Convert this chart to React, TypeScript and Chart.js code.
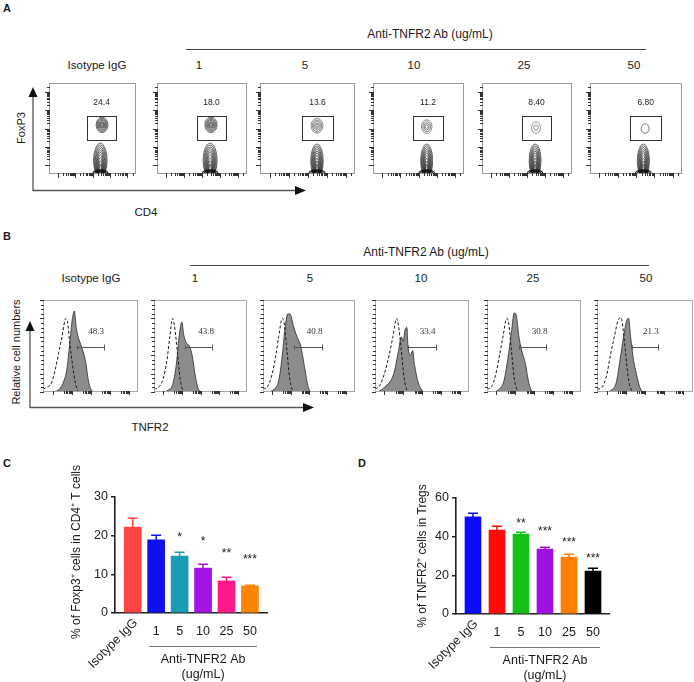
import React, { useEffect, useRef } from "react";
import { Chart, registerables } from "chart.js";
Chart.register(...registerables);

const SANS = "'Liberation Sans', Arial, Helvetica, sans-serif";
const SERIF = "'Liberation Serif', 'Times New Roman', serif";

// ---------- shared labels ----------
const doseLabels = ["Isotype IgG", "1", "5", "10", "25", "50"];
const groupTitle = "Anti-TNFR2 Ab (ug/mL)";

// ---------- Panel A (FoxP3 vs CD4 contour plots) ----------
const aGatePct = ["24.4", "18.0", "13.6", "11.2", "8.40", "6.80"];
const aBoxLeft = [49, 157, 260, 373, 482, 590];
const aBoxRight = [136, 247, 355, 464, 572, 682];
const aColX = [97, 199, 305, 414, 524, 634];
const aGateX = [0.44, 0.77];
const aGateY = [0.37, 0.64];
const aUpperCenter = [[0.61, 0.54], [0.6, 0.54], [0.6, 0.53], [0.59, 0.52], [0.6, 0.51], [0.6, 0.5]];
const aUpperRadius = [[0.068, 0.085], [0.068, 0.085], [0.062, 0.08], [0.058, 0.075], [0.05, 0.062], [0.043, 0.052]];
const aUpperRings = [
  [1, 0.84, 0.69, 0.55, 0.42, 0.3, 0.18],
  [1, 0.84, 0.69, 0.55, 0.42, 0.3, 0.18],
  [1, 0.78, 0.57, 0.38, 0.2],
  [1, 0.74, 0.5, 0.27],
  [1, 0.5],
  [1],
];
const aUpperInk = ["#3a3a3a", "#444444", "#6a6a6a", "#6a6a6a", "#7a7a7a", "#555555"];
const aLowerCenterX = [0.59, 0.59, 0.6, 0.59, 0.59, 0.58];
const aLowerRadiusX = [0.078, 0.078, 0.066, 0.066, 0.066, 0.066];
const aLowerTop = [0.34, 0.34, 0.33, 0.33, 0.33, 0.33];
const aLowerRings = [[1, 1], [0.88, 0.94], [0.76, 0.88], [0.66, 0.82], [0.56, 0.76], [0.47, 0.7], [0.38, 0.62], [0.3, 0.53], [0.22, 0.43], [0.15, 0.32]];
const aBaseRings = [[0.085, 0.035], [0.065, 0.026], [0.045, 0.018], [0.03, 0.012]];

// ---------- Panel B (TNFR2 histograms) ----------
const bGatePct = ["48.3", "43.8", "40.8", "33.4", "30.8", "21.3"];
const bBoxLeft = [43, 154, 263, 375, 487, 597];
const bBoxRight = [138, 247, 355, 469, 581, 693];
const bColX = [91, 195, 310, 421, 533, 646];
const bGateRange = [[0.36, 0.64], [0.33, 0.62], [0.34, 0.64], [0.35, 0.65], [0.34, 0.63], [0.36, 0.64]];
const bShaded: number[][][] = [
  [[0.1, 0], [0.14, 0.01], [0.18, 0.04], [0.22, 0.12], [0.25, 0.24], [0.28, 0.51], [0.31, 0.8], [0.33, 0.88], [0.35, 0.7], [0.37, 0.6], [0.41, 0.48], [0.45, 0.32], [0.48, 0.11], [0.51, 0.02], [0.54, 0]],
  [[0.1, 0], [0.15, 0.02], [0.2, 0.08], [0.24, 0.3], [0.27, 0.6], [0.3, 0.76], [0.32, 0.62], [0.35, 0.53], [0.38, 0.5], [0.41, 0.4], [0.44, 0.2], [0.47, 0.05], [0.5, 0]],
  [[0.06, 0], [0.12, 0.03], [0.17, 0.12], [0.21, 0.4], [0.24, 0.7], [0.27, 0.85], [0.3, 0.84], [0.33, 0.72], [0.37, 0.6], [0.41, 0.5], [0.45, 0.28], [0.49, 0.06], [0.52, 0]],
  [[0.03, 0], [0.1, 0.05], [0.2, 0.2], [0.25, 0.45], [0.28, 0.6], [0.3, 0.55], [0.32, 0.68], [0.34, 0.7], [0.35, 0.5], [0.38, 0.4], [0.4, 0.45], [0.42, 0.3], [0.46, 0.1], [0.5, 0.02], [0.52, 0]],
  [[0.08, 0], [0.13, 0.03], [0.18, 0.12], [0.22, 0.35], [0.26, 0.65], [0.29, 0.86], [0.31, 0.84], [0.34, 0.6], [0.37, 0.45], [0.41, 0.3], [0.44, 0.12], [0.47, 0.02], [0.49, 0]],
  [[0.1, 0], [0.15, 0.02], [0.2, 0.1], [0.24, 0.35], [0.28, 0.62], [0.31, 0.78], [0.33, 0.8], [0.35, 0.6], [0.38, 0.35], [0.41, 0.2], [0.44, 0.07], [0.47, 0]],
];
const bIsotype: number[][][] = [
  [[0, 0.03], [0.04, 0.05], [0.09, 0.1], [0.13, 0.25], [0.17, 0.45], [0.2, 0.6], [0.24, 0.8], [0.26, 0.75], [0.28, 0.55], [0.31, 0.3], [0.34, 0.1], [0.37, 0]],
  [[0, 0.03], [0.05, 0.05], [0.1, 0.15], [0.14, 0.35], [0.17, 0.6], [0.2, 0.8], [0.22, 0.72], [0.25, 0.45], [0.28, 0.15], [0.31, 0.02], [0.33, 0]],
  [[0, 0.03], [0.05, 0.06], [0.1, 0.2], [0.14, 0.4], [0.17, 0.6], [0.21, 0.8], [0.23, 0.75], [0.26, 0.45], [0.29, 0.15], [0.32, 0.02], [0.34, 0]],
  [[0, 0.03], [0.05, 0.07], [0.1, 0.2], [0.15, 0.4], [0.19, 0.6], [0.23, 0.8], [0.25, 0.72], [0.28, 0.45], [0.31, 0.15], [0.34, 0.02], [0.36, 0]],
  [[0, 0.03], [0.05, 0.06], [0.09, 0.18], [0.13, 0.38], [0.17, 0.6], [0.21, 0.8], [0.23, 0.75], [0.26, 0.45], [0.29, 0.15], [0.32, 0.02], [0.34, 0]],
  [[0, 0.03], [0.05, 0.05], [0.1, 0.18], [0.14, 0.4], [0.18, 0.6], [0.22, 0.78], [0.25, 0.81], [0.27, 0.7], [0.3, 0.4], [0.33, 0.12], [0.36, 0.02], [0.38, 0]],
];

// ---------- Panel C ----------
const foxp3Mean = [22.2, 18.9, 14.7, 11.6, 8.3, 7.0];
const foxp3Err = [2.3, 1.2, 1.1, 1.1, 1.0, 0.15];
const foxp3Colors = ["#ff4444", "#1010ee", "#1a9cb4", "#a313e6", "#ff1a8c", "#ff8400"];
const foxp3Stars = ["", "", "*", "*", "**", "***"];
const foxp3StarY = [0, 0, 20.2, 19.1, 16, 14.5];

// ---------- Panel D ----------
const tnfr2Mean = [50.2, 43.4, 41.4, 33.6, 29.5, 22.2];
const tnfr2Err = [2.0, 2.2, 1.0, 1.1, 1.5, 1.6];
const tnfr2Colors = ["#0a0aff", "#ff0a0a", "#16c016", "#a010e0", "#ff8000", "#000000"];
const tnfr2Stars = ["", "", "**", "***", "***", "***"];
const tnfr2StarY = [0, 0, 48.1, 44, 38.3, 30];

// ---------- helpers ----------
function ChartBox(props: { left: number; top: number; width: number; height: number; make: () => any }) {
  const ref = useRef<HTMLCanvasElement>(null);
  useEffect(() => {
    const c = new Chart(ref.current as HTMLCanvasElement, props.make());
    return () => c.destroy();
  }, []);
  return (
    <div style={{ position: "absolute", left: props.left, top: props.top, width: props.width, height: props.height }}>
      <canvas ref={ref} width={props.width} height={props.height} style={{ width: props.width, height: props.height, display: "block" }} />
    </div>
  );
}

function T(p: { x: number; y: number; s?: number; rot?: number; w?: number; f?: string; c?: string; children: any }) {
  return (
    <div
      style={{
        position: "absolute",
        left: p.x,
        top: p.y,
        transform: `translate(-50%,-50%) rotate(${p.rot || 0}deg)`,
        fontSize: p.s || 12,
        fontFamily: p.f || SANS,
        fontWeight: p.w || 400,
        color: p.c || "#1a1a1a",
        whiteSpace: "nowrap",
        lineHeight: 1,
      }}
    >
      {p.children}
    </div>
  );
}

const LOG_MINORS = [2, 3, 4, 5, 6, 7, 8, 9];
function logTickFracs(): { f: number; major: boolean }[] {
  const out: { f: number; major: boolean }[] = [];
  for (let d = 0; d < 5; d++) {
    const base = 0.1 + 0.2 * d;
    out.push({ f: base, major: true });
    for (const m of LOG_MINORS) {
      const f = base + 0.2 * Math.log10(m);
      if (f < 0.99) out.push({ f, major: false });
    }
  }
  return out;
}

const smallBase = (padding: any) => ({
  responsive: false,
  animation: false,
  events: [],
  layout: { padding },
  plugins: { legend: { display: false }, tooltip: { enabled: false }, title: { display: false } },
  scales: {
    x: { type: "linear", min: 0, max: 1, display: false },
    y: { type: "linear", min: 0, max: 1, display: false },
  },
});

function makeFacsA(i: number) {
  return {
    type: "scatter",
    data: { datasets: [{ data: [] }] },
    options: smallBase({ left: 6, top: 3, right: 4, bottom: 6 }),
    plugins: [
      {
        id: "facsA",
        afterDraw(chart: any) {
          const ctx = chart.ctx, xs = chart.scales.x, ys = chart.scales.y, a = chart.chartArea;
          const X = (v: number) => xs.getPixelForValue(v);
          const Y = (v: number) => ys.getPixelForValue(v);
          const ell = (cx: number, cy: number, rx: number, ry: number) => {
            const px = X(cx), py = Y(cy);
            ctx.beginPath();
            ctx.ellipse(px, py, Math.abs(X(cx + rx) - px), Math.abs(Y(cy + ry) - py), 0, 0, Math.PI * 2);
            ctx.stroke();
          };
          ctx.save();
          ctx.beginPath();
          ctx.rect(a.left, a.top, a.right - a.left, a.bottom - a.top);
          ctx.clip();
          // lower (FoxP3-) population
          const lcx = aLowerCenterX[i], lrx = aLowerRadiusX[i], ltop = aLowerTop[i];
          ctx.lineWidth = 0.7;
          ctx.strokeStyle = "#2a2a2a";
          for (const [sx, sy] of aLowerRings) {
            const top = ltop * sy;
            const ry = top / 2 + 0.02;
            ell(lcx, top - ry, lrx * sx, ry);
          }
          ctx.lineWidth = 1.1;
          ctx.strokeStyle = "#111";
          for (const [rx, ry] of aBaseRings) ell(lcx, 0.01, rx, ry);
          // upper (Treg) population
          const [ucx, ucy] = aUpperCenter[i];
          const [urx, ury] = aUpperRadius[i];
          ctx.lineWidth = 0.8;
          ctx.strokeStyle = aUpperInk[i];
          for (const s of aUpperRings[i]) ell(ucx, ucy, urx * s, ury * s);
          ctx.restore();

          // frame
          ctx.save();
          ctx.strokeStyle = "#9a9a9a";
          ctx.lineWidth = 1;
          ctx.strokeRect(a.left + 0.5, a.top + 0.5, a.right - a.left - 1, a.bottom - a.top - 1);
          // log ticks
          ctx.strokeStyle = "#333";
          for (const t of logTickFracs()) {
            const len = t.major ? 4 : 2;
            const py = Math.round(Y(t.f)) + 0.5;
            ctx.beginPath();
            ctx.moveTo(a.left - len, py);
            ctx.lineTo(a.left + 1, py);
            ctx.stroke();
            const px = Math.round(X(t.f)) + 0.5;
            ctx.beginPath();
            ctx.moveTo(px, a.bottom - 1);
            ctx.lineTo(px, a.bottom + len);
            ctx.stroke();
          }
          // gate
          ctx.strokeStyle = "#333";
          ctx.lineWidth = 1;
          const gx0 = Math.round(X(aGateX[0])) + 0.5, gx1 = Math.round(X(aGateX[1])) + 0.5;
          const gy0 = Math.round(Y(aGateY[1])) + 0.5, gy1 = Math.round(Y(aGateY[0])) + 0.5;
          ctx.strokeRect(gx0, gy0, gx1 - gx0, gy1 - gy0);
          ctx.fillStyle = "#222";
          ctx.font = `8.5px ${SANS}`;
          ctx.textAlign = "center";
          ctx.textBaseline = "middle";
          ctx.fillText(aGatePct[i], X((aGateX[0] + aGateX[1]) / 2), Y(0.78));
          ctx.restore();
        },
      },
    ],
  };
}

function makeHistB(i: number) {
  const toPts = (arr: number[][]) => arr.map(([x, y]) => ({ x, y }));
  const opts: any = smallBase({ left: 6, top: 3, right: 4, bottom: 6 });
  return {
    type: "line",
    data: {
      datasets: [
        { data: toPts(bIsotype[i]), borderColor: "#1a1a1a", borderWidth: 1, borderDash: [3, 2], fill: false, pointRadius: 0, cubicInterpolationMode: "monotone" },
        { data: toPts(bShaded[i]), borderColor: "#2a2a2a", borderWidth: 0.8, backgroundColor: "#8c8c8c", fill: "origin", pointRadius: 0, cubicInterpolationMode: "monotone" },
      ],
    },
    options: opts,
    plugins: [
      {
        id: "histB",
        afterDraw(chart: any) {
          const ctx = chart.ctx, xs = chart.scales.x, ys = chart.scales.y, a = chart.chartArea;
          const X = (v: number) => xs.getPixelForValue(v);
          const Y = (v: number) => ys.getPixelForValue(v);
          ctx.save();
          ctx.strokeStyle = "#a8a8a8";
          ctx.lineWidth = 1;
          ctx.strokeRect(a.left + 0.5, a.top + 0.5, a.right - a.left - 1, a.bottom - a.top - 1);
          ctx.strokeStyle = "#333";
          for (let k = 0; k <= 20; k++) {
            const py = Math.round(Y(k / 20)) + 0.5;
            const len = k % 4 === 0 ? 3 : 2;
            ctx.beginPath();
            ctx.moveTo(a.left - len, py);
            ctx.lineTo(a.left + 1, py);
            ctx.stroke();
          }
          for (const t of logTickFracs()) {
            if (!t.major && t.f % 0.2 > 0.16) continue;
            const px = Math.round(X(t.f)) + 0.5;
            ctx.beginPath();
            ctx.moveTo(px, a.bottom - 1);
            ctx.lineTo(px, a.bottom + (t.major ? 3 : 2));
            ctx.stroke();
          }
          // gate bar
          const [g0, g1] = bGateRange[i];
          const gy = Math.round(Y(0.49)) + 0.5;
          ctx.strokeStyle = "#555";
          ctx.beginPath();
          ctx.moveTo(X(g0), gy);
          ctx.lineTo(X(g1), gy);
          ctx.moveTo(Math.round(X(g1)) + 0.5, gy - 3);
          ctx.lineTo(Math.round(X(g1)) + 0.5, gy + 3);
          ctx.moveTo(Math.round(X(g0)) + 0.5, gy - 2);
          ctx.lineTo(Math.round(X(g0)) + 0.5, gy + 2);
          ctx.stroke();
          ctx.fillStyle = "#333";
          ctx.font = `9px ${SERIF}`;
          ctx.textAlign = "center";
          ctx.textBaseline = "middle";
          ctx.fillText(bGatePct[i], X(0.56), Y(0.655));
          ctx.restore();
        },
      },
    ],
  };
}

type BarPanel = {
  cl: number; ct: number; cw: number; ch: number;
  axL: number; axR: number; yTop: number; yBot: number;
  xMin: number; xMax: number; yMax: number; yStep: number;
  means: number[]; errs: number[]; colors: string[]; stars: string[]; starY: number[];
  title: string; titleX: number; titleDy: number; barW: number; capW: number;
};

function makeBar(p: BarPanel) {
  const yW = 40;
  return {
    type: "bar",
    data: {
      datasets: [
        {
          data: p.means.map((v, i) => ({ x: i, y: v })),
          backgroundColor: p.colors,
          borderWidth: 0,
          barThickness: p.barW,
        },
      ],
    },
    options: {
      responsive: false,
      animation: false,
      events: [],
      layout: { padding: { left: p.axL - p.cl - yW, top: p.yTop - p.ct, right: p.cl + p.cw - p.axR, bottom: p.ct + p.ch - p.yBot } },
      plugins: { legend: { display: false }, tooltip: { enabled: false } },
      scales: {
        x: {
          type: "linear", min: p.xMin, max: p.xMax, offset: false,
          grid: { display: false }, ticks: { display: false },
          border: { display: true, color: "#222", width: 1.6 },
          afterFit: (s: any) => { s.height = 0; },
        },
        y: {
          type: "linear", min: 0, max: p.yMax,
          afterFit: (s: any) => { s.width = yW; },
          ticks: { stepSize: p.yStep, color: "#222", font: { family: SANS, size: 12.5 }, padding: 3 },
          grid: { drawOnChartArea: false, drawTicks: true, tickLength: 4, color: "#222", lineWidth: 1.5 },
          border: { display: true, color: "#222", width: 1.6 },
        },
      },
    },
    plugins: [
      {
        id: "barExtras",
        afterDatasetsDraw(chart: any) {
          const ctx = chart.ctx, xs = chart.scales.x, ys = chart.scales.y;
          ctx.save();
          ctx.lineWidth = 1.5;
          p.means.forEach((m, i) => {
            const x = xs.getPixelForValue(i);
            const y0 = ys.getPixelForValue(m);
            const y1 = Math.round(ys.getPixelForValue(m + p.errs[i])) + 0.25;
            ctx.strokeStyle = p.colors[i];
            ctx.beginPath();
            ctx.moveTo(x, y0);
            ctx.lineTo(x, y1);
            ctx.moveTo(x - p.capW / 2, y1);
            ctx.lineTo(x + p.capW / 2, y1);
            ctx.stroke();
          });
          ctx.restore();
        },
        afterDraw(chart: any) {
          const ctx = chart.ctx, xs = chart.scales.x, ys = chart.scales.y;
          const bottom = ys.getPixelForValue(0);
          ctx.save();
          ctx.fillStyle = "#1a1a1a";
          ctx.textAlign = "center";
          ctx.textBaseline = "middle";
          // significance stars
          ctx.font = `12px ${SANS}`;
          p.stars.forEach((s, i) => {
            if (!s) return;
            ctx.fillText(s, xs.getPixelForValue(i), ys.getPixelForValue(p.starY[i]) + 3);
          });
          // x labels
          ctx.font = `12.5px ${SANS}`;
          doseLabels.forEach((lab, i) => {
            const x = xs.getPixelForValue(i);
            if (i === 0) {
              ctx.save();
              ctx.translate(x + 3, bottom + 8);
              ctx.rotate(-Math.PI / 4);
              ctx.textAlign = "right";
              ctx.fillText(lab, 0, 0);
              ctx.restore();
            } else {
              ctx.fillText(lab, x, bottom + 19);
            }
          });
          // group underline and label
          const x1 = xs.getPixelForValue(1) - 7, x5 = xs.getPixelForValue(5) + 7;
          ctx.strokeStyle = "#777";
          ctx.lineWidth = 1;
          ctx.beginPath();
          ctx.moveTo(x1, Math.round(bottom + 33) + 0.5);
          ctx.lineTo(x5, Math.round(bottom + 33) + 0.5);
          ctx.stroke();
          const mid = (x1 + x5) / 2;
          ctx.font = `12.5px ${SANS}`;
          ctx.fillText("Anti-TNFR2 Ab", mid, bottom + 47);
          ctx.fillText("(ug/mL)", mid, bottom + 62);
          // y title
          ctx.save();
          ctx.translate(p.titleX - p.cl, (ys.getPixelForValue(p.yMax) + bottom) / 2 + p.titleDy);
          ctx.rotate(-Math.PI / 2);
          ctx.font = `12px ${SANS}`;
          ctx.fillText(p.title, 0, 0);
          ctx.restore();
          ctx.restore();
        },
      },
    ],
  };
}

const panelC: BarPanel = {
  cl: 0, ct: 440, cw: 300, ch: 242,
  axL: 115, axR: 267, yTop: 497, yBot: 613,
  xMin: -0.755, xMax: 5.727, yMax: 30, yStep: 10,
  means: foxp3Mean, errs: foxp3Err, colors: foxp3Colors, stars: foxp3Stars, starY: foxp3StarY,
  title: "% of Foxp3\u207A cells in CD4\u207A T cells", titleX: 77, titleDy: -3, barW: 17, capW: 10,
};
const panelD: BarPanel = {
  cl: 340, ct: 440, cw: 354, ch: 242,
  axL: 456, axR: 609, yTop: 498, yBot: 614,
  xMin: -0.708, xMax: 5.667, yMax: 60, yStep: 20,
  means: tnfr2Mean, errs: tnfr2Err, colors: tnfr2Colors, stars: tnfr2Stars, starY: tnfr2StarY,
  title: "% of TNFR2\u207A cells in Tregs", titleX: 423, titleDy: 0, barW: 16, capW: 10,
};

export default function App() {
  return (
    <div style={{ position: "absolute", left: 0, top: 0, width: 694, height: 682, overflow: "hidden", background: "#fff", fontFamily: SANS }}>
      {/* Panel A */}
      <T x={7} y={8} s={11} w={700}>A</T>
      <T x={430} y={34} s={12}>{groupTitle}</T>
      {doseLabels.map((d, i) => (
        <T key={"ac" + i} x={aColX[i]} y={66} s={11.5}>{d}</T>
      ))}
      {aBoxLeft.map((l, i) => (
        <ChartBox key={"a" + i} left={l - 6} top={80} width={aBoxRight[i] - l + 10} height={100} make={() => makeFacsA(i)} />
      ))}
      <T x={21} y={128} s={11} rot={-90}>FoxP3</T>
      <T x={146} y={213} s={11.5}>CD4</T>

      {/* Panel B */}
      <T x={7} y={236} s={11} w={700}>B</T>
      <T x={426} y={252} s={12}>{groupTitle}</T>
      {doseLabels.map((d, i) => (
        <T key={"bc" + i} x={bColX[i]} y={279} s={11.5}>{d}</T>
      ))}
      {bBoxLeft.map((l, i) => (
        <ChartBox key={"b" + i} left={l - 6} top={297} width={bBoxRight[i] - l + 10} height={101} make={() => makeHistB(i)} />
      ))}
      <T x={16} y={352} s={11} rot={-90}>Relative cell numbers</T>
      <T x={150} y={428} s={11.5}>TNFR2</T>

      {/* Panels C, D */}
      <T x={7} y={463} s={11} w={700}>C</T>
      <T x={362} y={463} s={11} w={700}>D</T>
      <ChartBox left={panelC.cl} top={panelC.ct} width={panelC.cw} height={panelC.ch} make={() => makeBar(panelC)} />
      <ChartBox left={panelD.cl} top={panelD.ct} width={panelD.cw} height={panelD.ch} make={() => makeBar(panelD)} />

      <svg width={694} height={682} style={{ position: "absolute", left: 0, top: 0, pointerEvents: "none" }}>
        <line x1={186} y1={49.5} x2={646} y2={49.5} stroke="#444" strokeWidth={1} />
        <line x1={190} y1={265.5} x2={649} y2={265.5} stroke="#444" strokeWidth={1} />
        {/* A arrows */}
        <line x1={33} y1={191} x2={33} y2={96} stroke="#555" strokeWidth={1.3} />
        <polygon points="33,87 28.5,97 37.5,97" fill="#111" />
        <line x1={33} y1={190.5} x2={296} y2={190.5} stroke="#555" strokeWidth={1.3} />
        <polygon points="306,190.5 295,186 295,195" fill="#111" />
        {/* B arrows */}
        <line x1={30} y1={408} x2={30} y2={330} stroke="#555" strokeWidth={1.3} />
        <polygon points="30,321 25.5,331 34.5,331" fill="#111" />
        <line x1={30} y1={407.5} x2={304} y2={407.5} stroke="#555" strokeWidth={1.3} />
        <polygon points="314,407.5 303,403 303,412" fill="#111" />
      </svg>
    </div>
  );
}
